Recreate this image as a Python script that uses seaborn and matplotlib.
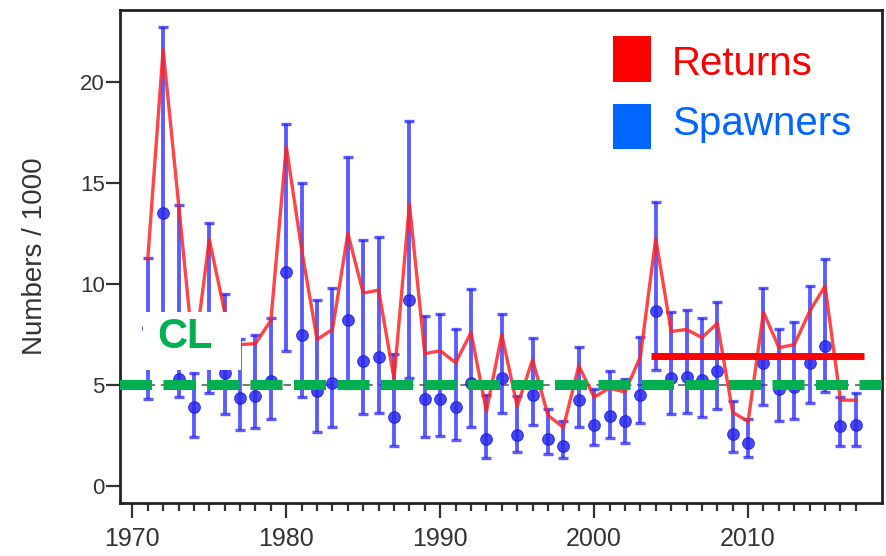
import numpy as np
import pandas as pd
import matplotlib
matplotlib.use("Agg")
import matplotlib.pyplot as plt
from matplotlib.patches import Rectangle
import seaborn as sns

# -----------------------------
# Data, numbers / 1000
# -----------------------------
years = np.arange(1971, 2018)

returns = [11.2, 21.6, 14.0, 6.3, 12.2, 8.6, 7.0, 7.05, 8.2, 16.8,
           11.7, 7.25, 7.75, 12.5, 9.55, 9.7, 5.3, 13.95, 6.55, 6.7,
           6.1, 7.6, 3.7, 7.5, 3.95, 6.25, 3.5, 2.9, 5.95, 4.4,
           4.85, 4.65, 6.4, 12.25, 7.65, 7.75, 7.35, 8.05, 3.65, 3.2,
           8.6, 6.85, 7.0, 8.65, 9.9, 4.25, 4.25]

spawners = [7.8, 13.5, 5.3, 3.9, 7.5, 5.6, 4.35, 4.45, 5.2, 10.6,
            7.5, 4.7, 5.1, 8.2, 6.2, 6.4, 3.4, 9.2, 4.3, 4.3,
            3.9, 5.1, 2.35, 5.35, 2.55, 4.5, 2.35, 2.0, 4.25, 3.0,
            3.45, 3.2, 4.5, 8.65, 5.35, 5.4, 5.25, 5.7, 2.6, 2.15,
            6.1, 4.8, 4.9, 6.1, 6.95, 2.95, 3.0]

spawners_low = [4.3, 6.0, 4.4, 2.45, 4.6, 3.55, 2.75, 2.85, 3.3, 6.7,
                4.4, 2.65, 2.9, 4.85, 3.55, 3.6, 2.0, 5.35, 2.45, 2.5,
                2.3, 2.9, 1.4, 3.6, 1.7, 3.0, 1.6, 1.4, 2.9, 2.05,
                2.4, 2.15, 3.1, 5.75, 3.55, 3.6, 3.4, 3.8, 1.7, 1.45,
                4.0, 3.2, 3.3, 4.1, 4.65, 2.0, 2.0]

spawners_high = [11.3, 22.7, 13.9, 5.6, 13.0, 9.5, 7.3, 7.5, 8.3, 17.9,
                 15.0, 9.2, 9.8, 16.3, 12.2, 12.35, 6.55, 18.05, 8.4, 8.5,
                 7.75, 9.75, 4.5, 8.5, 4.45, 7.35, 3.8, 3.2, 6.9, 4.8,
                 5.7, 5.3, 7.4, 14.05, 8.6, 8.7, 8.3, 9.1, 4.2, 3.3,
                 9.8, 7.75, 8.1, 9.9, 11.25, 4.4, 4.6]

conservation_limit = 5.0
target_level = 6.45
target_start = 2003.7
target_end = 2017.5

df = pd.DataFrame({
    "Year": years,
    "Returns": returns,
    "Spawners": spawners,
    "Low": spawners_low,
    "High": spawners_high,
})

# -----------------------------
# Plot
# -----------------------------
sns.set_style("ticks")
plt.rcParams["font.family"] = ["Liberation Sans", "DejaVu Sans"]

fig = plt.figure(figsize=(8.87, 5.56), dpi=100)
ax = fig.add_axes([0.1353, 0.0953, 0.8591, 0.8867])

# spawners with error bars
yerr = [df["Spawners"] - df["Low"], df["High"] - df["Spawners"]]
ax.errorbar(df["Year"], df["Spawners"], yerr=yerr, fmt="none",
            ecolor="#2626ff", elinewidth=2.8, capsize=3.5, capthick=2.4,
            alpha=0.75, zorder=2)
sns.scatterplot(data=df, x="Year", y="Spawners", ax=ax, s=70,
                color="#2a2af0", edgecolor="#2020e0", linewidth=0.8,
                alpha=0.85, zorder=3, legend=False)

# returns
sns.lineplot(data=df, x="Year", y="Returns", ax=ax, color="#ff2424",
             linewidth=2.4, alpha=0.85, zorder=4)

# conservation limit
ax.axhline(conservation_limit, color="#777777", lw=1.4, ls=(0, (4, 3)), zorder=1)
ax.axhline(conservation_limit, color="#00b050", lw=7.2,
           dashes=(3.2, 1.15), zorder=5)

# management target bar
ax.hlines(target_level, target_start, target_end, color="#ff0000", lw=5, zorder=6)

# CL label on a white patch
ax.add_patch(Rectangle((0.0302, 0.2698), 0.1286, 0.1176, transform=ax.transAxes,
                       facecolor="white", edgecolor="none", zorder=7))
ax.text(0.0853, 0.3138, "CL", transform=ax.transAxes, ha="center", va="baseline",
        fontsize=30, fontweight="bold", color="#00b050", zorder=8)

# legend boxes
ax.add_patch(Rectangle((0.647, 0.854), 0.0499, 0.0933, transform=ax.transAxes,
                       facecolor="#ff0000", edgecolor="none", zorder=7))
ax.add_patch(Rectangle((0.647, 0.718), 0.0499, 0.0913, transform=ax.transAxes,
                       facecolor="#0066ff", edgecolor="none", zorder=7))
ax.text(0.7244, 0.868, "Returns", transform=ax.transAxes, ha="left",
        va="baseline", fontsize=29, color="#ff0000", zorder=8)
ax.text(0.7244, 0.7465, "Spawners", transform=ax.transAxes, ha="left",
        va="baseline", fontsize=29, color="#0066ff", zorder=8)

# axes
ax.set_xlim(1969.2, 2018.7)
ax.set_ylim(-0.84, 23.56)
ax.set_xticks([1970, 1980, 1990, 2000, 2010])
ax.set_xticks(np.arange(1970, 2018), minor=True)
ax.set_yticks([0, 5, 10, 15, 20])

ax.set_xlabel("")
ax.set_ylabel("Numbers / 1000", fontsize=20, color="#333333")
ax.yaxis.set_label_coords(-0.095, 0.5)

ax.tick_params(axis="x", which="major", length=11, width=1.6, pad=6,
               labelsize=18, labelcolor="#333333", color="#333333")
ax.tick_params(axis="x", which="minor", length=6, width=1.6, color="#333333")
ax.tick_params(axis="y", which="major", length=10, width=1.6, pad=1,
               labelsize=16, labelcolor="#333333", color="#333333")

for side in ["left", "right", "top", "bottom"]:
    ax.spines[side].set_visible(True)
    ax.spines[side].set_linewidth(2)
    ax.spines[side].set_color("#222222")

plt.savefig("out.png", dpi=100)
